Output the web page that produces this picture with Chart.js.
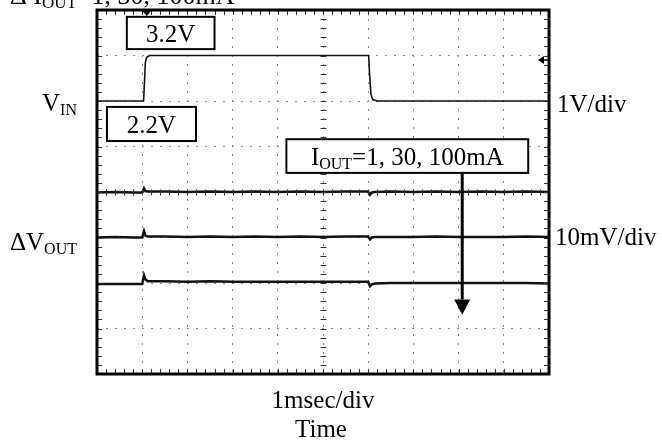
<!DOCTYPE html>
<html>
<head>
<meta charset="utf-8">
<script src="https://cdn.jsdelivr.net/npm/chart.js@4.4.0/dist/chart.umd.min.js"></script>
<style>
  html, body { margin: 0; padding: 0; background: #fff; }
</style>
</head>
<body>
<canvas id="scope" width="662" height="442"></canvas>
<script>
// Screen is 10 x 8 divisions; x in msec (1 msec/div)
const xDivs = 10;
const yDivs = 8;

// VIN channel, volts (1V/div), ground marker sits 3.8 div up the screen
const vinOffset = 3.8;
const vinTime = [0, 1.03, 1.05, 1.07, 1.10, 1.16, 1.3, 6.01, 6.03, 6.06, 6.10, 6.2, 10];
const vinVolts = [2.2, 2.2, 2.6, 3.05, 3.16, 3.2, 3.2, 3.2, 2.8, 2.35, 2.23, 2.2, 2.2];

// ΔVOUT channel, mV (10mV/div), one trace per load current
const loadCurrents = ['1mA', '30mA', '100mA'];
const outOffsets = [4, 3, 2];
const outTime = [0, 0.4, 0.8, 1.0, 1.04, 1.07, 1.12, 1.5, 2, 2.5, 3, 3.5, 4, 4.5, 5, 5.5,
                 6.0, 6.04, 6.08, 6.15, 6.5, 7, 7.5, 8, 8.5, 9, 9.5, 10];
const out1mA = [-0.1, 0, -0.1, -0.1, 0.8, 0.2, 0.1, 0.1, 0, 0.1, 0, 0.1, 0, 0.1, 0, 0.1,
                0.1, -0.6, -0.1, 0, 0.1, 0, 0.1, 0, 0.1, 0, 0.1, 0];
const out30mA = [0, 0.1, 0, 0, 1.4, 0.4, 0.2, 0.2, 0.1, 0.2, 0.1, 0.2, 0.1, 0.2, 0.1, 0.2,
                 0.2, -0.4, 0, 0.1, 0.1, 0.1, 0.2, 0.1, 0.1, 0.1, 0.2, 0.1];
const out100mA = [-0.2, -0.2, -0.2, -0.2, 1.7, 0.8, 0.4, 0.4, 0.3, 0.4, 0.3, 0.3, 0.3, 0.3, 0.3, 0.3,
                  0.3, -0.7, -0.3, -0.1, 0, 0, 0, 0, 0, 0, 0, -0.1];

const levelLabels = ['3.2V', '2.2V'];
const vinScale = '1V/div';
const outScale = '10mV/div';
const timeScale = '1msec/div';
const timeTitle = 'Time';

const SERIF = '"Liberation Serif", "Times New Roman", serif';

const vinPoints = vinTime.map((t, i) => ({ x: t, y: vinOffset + vinVolts[i] }));
const outSeries = [out1mA, out30mA, out100mA];

const datasets = [{
  label: 'VIN', data: vinPoints, borderColor: '#111', borderWidth: 1.6
}];
outSeries.forEach((mv, k) => {
  datasets.push({
    label: 'ΔVOUT ' + loadCurrents[k],
    data: outTime.map((t, i) => ({ x: t, y: outOffsets[k] + mv[i] / 10 })),
    borderColor: '#111', borderWidth: 2.5
  });
});

// draws text runs like V + subscript IN
function runs(ctx, parts, x, y, align) {
  let w = 0;
  parts.forEach(p => { ctx.font = p[1] + 'px ' + SERIF; w += ctx.measureText(p[0]).width; });
  let cx = align === 'right' ? x - w : align === 'center' ? x - w / 2 : x;
  ctx.textAlign = 'left';
  ctx.textBaseline = 'alphabetic';
  parts.forEach(p => {
    ctx.font = p[1] + 'px ' + SERIF;
    ctx.fillText(p[0], cx, y + (p[2] || 0));
    cx += ctx.measureText(p[0]).width;
  });
}

const scopeDecor = {
  id: 'scopeDecor',
  afterDatasetsDraw(chart) {
    const { ctx, chartArea: a, scales: { x, y } } = chart;
    const px = v => x.getPixelForValue(v);
    const py = v => y.getPixelForValue(v);
    ctx.save();
    ctx.strokeStyle = '#333';
    ctx.lineWidth = 1;

    // minor ticks (5 per division) along the frame and the centre axes
    ctx.beginPath();
    for (let i = 1; i < xDivs * 5; i++) {
      const xx = Math.round(px(i / 5)) + 0.5;
      ctx.moveTo(xx, a.top); ctx.lineTo(xx, a.top + 5);
      ctx.moveTo(xx, a.bottom); ctx.lineTo(xx, a.bottom - 5);
      const cy = Math.round(py(yDivs / 2)) + 0.5;
      ctx.moveTo(xx, cy - 3); ctx.lineTo(xx, cy + 3);
    }
    for (let j = 1; j < yDivs * 5; j++) {
      const yy = Math.round(py(j / 5)) + 0.5;
      ctx.moveTo(a.left, yy); ctx.lineTo(a.left + 5, yy);
      ctx.moveTo(a.right, yy); ctx.lineTo(a.right - 5, yy);
      const cx = Math.round(px(xDivs / 2)) + 0.5;
      ctx.moveTo(cx - 3, yy); ctx.lineTo(cx + 3, yy);
    }
    ctx.stroke();

    // frame
    ctx.strokeStyle = '#000';
    ctx.lineWidth = 3;
    ctx.strokeRect(a.left, a.top, a.right - a.left, a.bottom - a.top);

    // trigger position and trigger level markers
    ctx.fillStyle = '#000';
    const tx = px(1.1);
    ctx.beginPath();
    ctx.moveTo(tx - 5, a.top); ctx.lineTo(tx + 5, a.top); ctx.lineTo(tx, a.top + 6);
    ctx.fill();
    const ty = py(6.9);
    ctx.beginPath();
    ctx.moveTo(a.right - 11, ty); ctx.lineTo(a.right - 5, ty - 4); ctx.lineTo(a.right - 5, ty + 4);
    ctx.fill();
    ctx.lineWidth = 1.5;
    ctx.beginPath(); ctx.moveTo(a.right - 6, ty); ctx.lineTo(a.right, ty); ctx.stroke();

    // labelled boxes
    const box = (x0, y0, x1, y1, parts) => {
      const l = px(x0), r = px(x1), t = py(y0), b = py(y1);
      ctx.fillStyle = '#fff';
      ctx.fillRect(l, t, r - l, b - t);
      ctx.strokeStyle = '#000';
      ctx.lineWidth = 2;
      ctx.strokeRect(l, t, r - l, b - t);
      ctx.fillStyle = '#000';
      runs(ctx, parts, (l + r) / 2, (t + b) / 2 + 9, 'center');
    };
    box(0.66, 7.85, 2.60, 7.14, [[levelLabels[0], 25]]);
    box(0.22, 5.87, 2.19, 5.12, [[levelLabels[1], 25]]);

    // load current arrow
    const ax = px(8.08);
    ctx.strokeStyle = '#000';
    ctx.lineWidth = 3;
    ctx.beginPath(); ctx.moveTo(ax, py(4.5)); ctx.lineTo(ax, py(1.64)); ctx.stroke();
    ctx.beginPath();
    ctx.moveTo(ax - 8, py(1.64)); ctx.lineTo(ax + 8, py(1.64)); ctx.lineTo(ax, py(1.3));
    ctx.closePath(); ctx.fill();
    box(4.19, 5.16, 9.54, 4.42, [['I', 25], ['OUT', 16, 4], ['=1, 30, 100mA', 25]]);

    // channel and axis labels
    ctx.fillStyle = '#000';
    runs(ctx, [['V', 25], ['IN', 16, 4]], a.left - 20, py(6) + 10, 'right');
    runs(ctx, [['ΔV', 25], ['OUT', 16, 4]], a.left - 20, py(3) + 12, 'right');
    runs(ctx, [[vinScale, 25]], a.right + 8, py(6) + 11, 'left');
    runs(ctx, [[outScale, 25]], a.right + 6, py(3) + 7, 'left');
    runs(ctx, [[timeScale, 25]], (a.left + a.right) / 2, a.bottom + 34, 'center');
    runs(ctx, [[timeTitle, 25]], (a.left + a.right) / 2 - 2, a.bottom + 63, 'center');

    // heading, running off the top edge
    runs(ctx, [['Δ', 26], [' I', 26], ['OUT', 17, 4], ['=1, 30, 100mA', 26]], 10, 4, 'left');
    ctx.restore();
  }
};

new Chart(document.getElementById('scope').getContext('2d'), {
  type: 'scatter',
  data: { datasets },
  options: {
    responsive: false,
    animation: false,
    devicePixelRatio: 1,
    showLine: true,
    elements: { point: { radius: 0 }, line: { tension: 0 } },
    layout: { padding: { left: 97, right: 113, top: 10, bottom: 68 } },
    plugins: { legend: { display: false }, tooltip: { enabled: false } },
    scales: {
      x: {
        type: 'linear', min: 0, max: xDivs,
        ticks: { display: false, stepSize: 1 },
        grid: { color: '#8a8a8a', lineWidth: 1, drawTicks: false },
        border: { display: false, dash: [2, 7] }
      },
      y: {
        type: 'linear', min: 0, max: yDivs,
        ticks: { display: false, stepSize: 1 },
        grid: { color: '#8a8a8a', lineWidth: 1, drawTicks: false },
        border: { display: false, dash: [2, 7] }
      }
    }
  },
  plugins: [scopeDecor]
});
</script>
</body>
</html>
